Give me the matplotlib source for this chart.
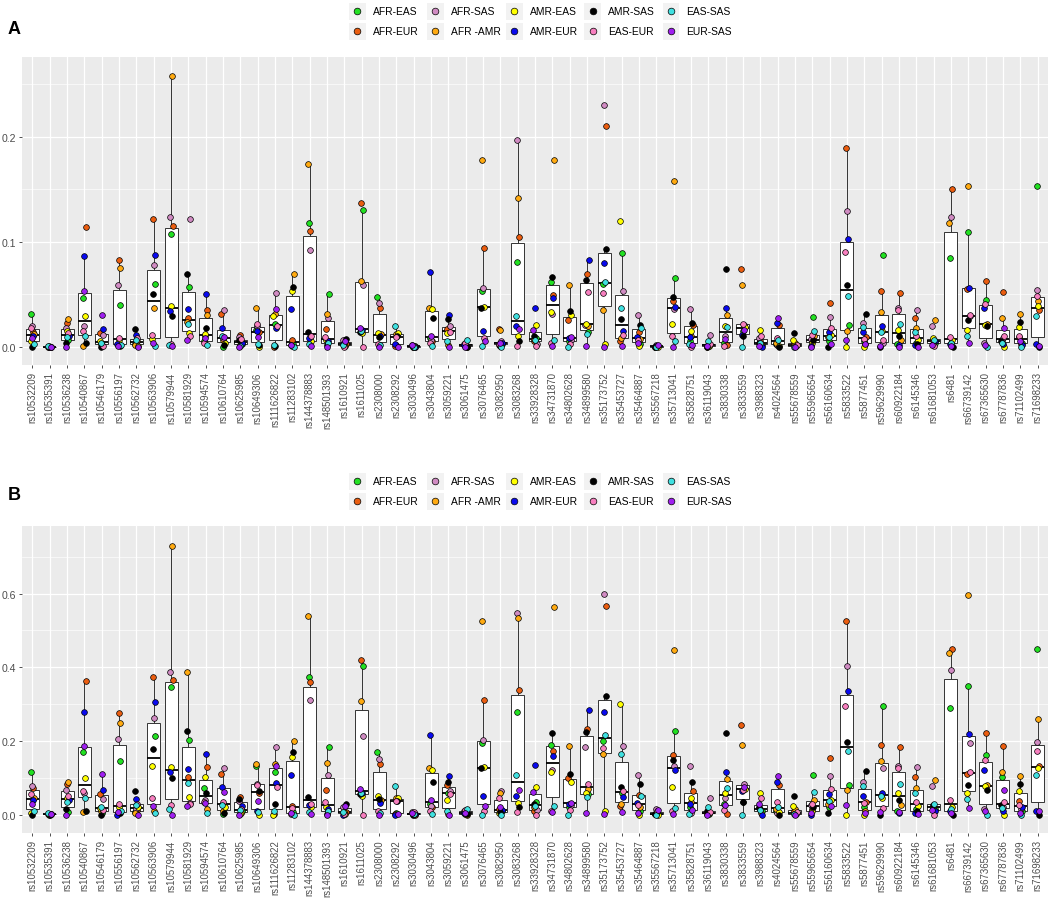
import matplotlib
matplotlib.use("Agg")
import matplotlib.pyplot as plt
import numpy as np
from matplotlib.patches import Rectangle

plt.rcParams["font.family"] = ["Liberation Sans", "DejaVu Sans"]

W, H = 1052, 904

snps = [
    "rs10532209", "rs10535391", "rs10536238", "rs10540867", "rs10546179", "rs10556197",
    "rs10562732", "rs10563906", "rs10579944", "rs10581929", "rs10594574", "rs10610764",
    "rs10625985", "rs10649306", "rs111626822", "rs11283102", "rs144378883", "rs148501393",
    "rs1610921", "rs1611025", "rs2308000", "rs2308292", "rs3030496", "rs3043804",
    "rs3059221", "rs3061475", "rs3076465", "rs3082950", "rs3083268", "rs33928328",
    "rs34731870", "rs34802628", "rs34899580", "rs35173752", "rs35453727", "rs35464887",
    "rs35567218", "rs35713041", "rs35828751", "rs36119043", "rs3830338", "rs3833559",
    "rs3988323", "rs4024564", "rs55678559", "rs55965654", "rs56160634", "rs5833522",
    "rs5877451", "rs59629990", "rs60922184", "rs6145346", "rs61681053", "rs6481",
    "rs66739142", "rs67365630", "rs67787836", "rs71102499", "rs71698233",
]

pairs = ["AFR-EAS", "AFR-EUR", "AFR-SAS", "AFR -AMR", "AMR-EAS",
         "AMR-EUR", "AMR-SAS", "EAS-EUR", "EAS-SAS", "EUR-SAS"]
pair_colors = ["#22e022", "#ea5d10", "#d08bc2", "#ffaa11", "#ffff00",
               "#0a0aee", "#000000", "#f77fbf", "#40e0e0", "#a020f0"]

# one row per SNP, columns in the order of `pairs`
a_values = [
    [0.031, 0.014, 0.020, 0.012, 0.005, 0.010, 0.000, 0.018, 0.003, 0.008],
    [0.001, 0.000, 0.000, 0.000, 0.000, 0.000, 0.000, 0.000, 0.001, 0.000],
    [0.006, 0.023, 0.018, 0.026, 0.015, 0.010, 0.004, 0.013, 0.009, 0.000],
    [0.046, 0.114, 0.020, 0.001, 0.029, 0.086, 0.004, 0.015, 0.010, 0.053],
    [0.002, 0.013, 0.011, 0.003, 0.005, 0.017, 0.000, 0.001, 0.004, 0.030],
    [0.040, 0.083, 0.059, 0.075, 0.006, 0.003, 0.001, 0.008, 0.002, 0.001],
    [0.003, 0.005, 0.004, 0.002, 0.001, 0.011, 0.017, 0.008, 0.006, 0.000],
    [0.060, 0.122, 0.078, 0.037, 0.007, 0.087, 0.050, 0.011, 0.001, 0.004],
    [0.107, 0.115, 0.124, 0.258, 0.039, 0.034, 0.029, 0.003, 0.002, 0.001],
    [0.057, 0.027, 0.122, 0.024, 0.013, 0.036, 0.069, 0.010, 0.022, 0.006],
    [0.005, 0.035, 0.010, 0.030, 0.012, 0.050, 0.018, 0.004, 0.002, 0.008],
    [0.000, 0.031, 0.035, 0.006, 0.004, 0.018, 0.002, 0.008, 0.010, 0.009],
    [0.003, 0.011, 0.009, 0.005, 0.002, 0.004, 0.006, 0.007, 0.001, 0.000],
    [0.016, 0.014, 0.020, 0.037, 0.000, 0.015, 0.002, 0.022, 0.003, 0.009],
    [0.022, 0.000, 0.051, 0.031, 0.029, 0.018, 0.001, 0.020, 0.002, 0.036],
    [0.003, 0.006, 0.002, 0.069, 0.053, 0.036, 0.057, 0.001, 0.000, 0.002],
    [0.118, 0.110, 0.092, 0.174, 0.005, 0.008, 0.014, 0.010, 0.003, 0.001],
    [0.050, 0.017, 0.027, 0.031, 0.006, 0.005, 0.002, 0.009, 0.0035, 0.000],
    [0.002, 0.003, 0.006, 0.001, 0.002, 0.003, 0.007, 0.000, 0.002, 0.005],
    [0.130, 0.137, 0.059, 0.063, 0.013, 0.016, 0.014, 0.000, 0.015, 0.018],
    [0.047, 0.037, 0.042, 0.012, 0.013, 0.010, 0.009, 0.003, 0.002, 0.000],
    [0.002, 0.001, 0.011, 0.012, 0.013, 0.003, 0.010, 0.009, 0.020, 0.000],
    [0.001, 0.000, 0.002, 0.000, 0.001, 0.000, 0.000, 0.001, 0.000, 0.002],
    [0.008, 0.005, 0.006, 0.037, 0.036, 0.071, 0.027, 0.004, 0.001, 0.010],
    [0.016, 0.017, 0.020, 0.002, 0.013, 0.030, 0.026, 0.014, 0.005, 0.000],
    [0.002, 0.001, 0.003, 0.000, 0.001, 0.002, 0.000, 0.004, 0.006, 0.000],
    [0.053, 0.094, 0.056, 0.178, 0.038, 0.015, 0.037, 0.008, 0.001, 0.005],
    [0.003, 0.017, 0.005, 0.016, 0.002, 0.004, 0.001, 0.003, 0.000, 0.004],
    [0.081, 0.105, 0.197, 0.142, 0.010, 0.020, 0.005, 0.001, 0.029, 0.017],
    [0.008, 0.005, 0.003, 0.007, 0.021, 0.037, 0.010, 0.001, 0.006, 0.016],
    [0.062, 0.049, 0.031, 0.178, 0.033, 0.046, 0.066, 0.004, 0.006, 0.001],
    [0.005, 0.025, 0.006, 0.059, 0.030, 0.008, 0.034, 0.003, 0.000, 0.009],
    [0.014, 0.069, 0.021, 0.020, 0.022, 0.083, 0.064, 0.052, 0.012, 0.001],
    [0.060, 0.210, 0.230, 0.035, 0.003, 0.080, 0.093, 0.051, 0.062, 0.000],
    [0.089, 0.005, 0.053, 0.008, 0.120, 0.015, 0.026, 0.011, 0.037, 0.001],
    [0.003, 0.014, 0.030, 0.007, 0.001, 0.009, 0.021, 0.006, 0.018, 0.004],
    [0.000, 0.001, 0.002, 0.000, 0.000, 0.001, 0.000, 0.001, 0.000, 0.002],
    [0.065, 0.044, 0.036, 0.158, 0.022, 0.038, 0.047, 0.010, 0.005, 0.000],
    [0.005, 0.021, 0.036, 0.010, 0.015, 0.009, 0.0225, 0.000, 0.003, 0.002],
    [0.001, 0.002, 0.011, 0.000, 0.001, 0.002, 0.000, 0.003, 0.005, 0.001],
    [0.004, 0.002, 0.010, 0.030, 0.020, 0.0365, 0.074, 0.001, 0.019, 0.007],
    [0.015, 0.074, 0.021, 0.059, 0.019, 0.011, 0.010, 0.022, 0.000, 0.016],
    [0.002, 0.005, 0.008, 0.003, 0.016, 0.000, 0.004, 0.0105, 0.004, 0.001],
    [0.003, 0.021, 0.002, 0.004, 0.001, 0.023, 0.000, 0.0086, 0.006, 0.0276],
    [0.001, 0.003, 0.002, 0.004, 0.0067, 0.001, 0.013, 0.002, 0.000, 0.000],
    [0.0286, 0.005, 0.007, 0.010, 0.004, 0.001, 0.006, 0.011, 0.015, 0.000],
    [0.005, 0.042, 0.0286, 0.009, 0.011, 0.0137, 0.000, 0.018, 0.0095, 0.003],
    [0.021, 0.189, 0.129, 0.0146, 0.000, 0.1025, 0.0587, 0.090, 0.0486, 0.0063],
    [0.005, 0.009, 0.023, 0.003, 0.000, 0.0137, 0.031, 0.007, 0.019, 0.0025],
    [0.0876, 0.0527, 0.004, 0.0333, 0.015, 0.020, 0.000, 0.006, 0.0137, 0.001],
    [0.003, 0.051, 0.037, 0.006, 0.016, 0.002, 0.0105, 0.035, 0.0216, 0.000],
    [0.004, 0.027, 0.035, 0.018, 0.006, 0.002, 0.003, 0.010, 0.014, 0.000],
    [0.004, 0.006, 0.020, 0.0257, 0.008, 0.005, 0.003, 0.001, 0.006, 0.002],
    [0.085, 0.150, 0.124, 0.118, 0.006, 0.003, 0.000, 0.0095, 0.004, 0.001],
    [0.109, 0.055, 0.029, 0.1527, 0.016, 0.056, 0.025, 0.030, 0.0105, 0.004],
    [0.0444, 0.063, 0.004, 0.022, 0.021, 0.037, 0.020, 0.041, 0.000, 0.002],
    [0.006, 0.0524, 0.008, 0.027, 0.000, 0.003, 0.005, 0.010, 0.004, 0.018],
    [0.004, 0.009, 0.003, 0.031, 0.0187, 0.002, 0.024, 0.010, 0.000, 0.005],
    [0.153, 0.035, 0.054, 0.044, 0.039, 0.003, 0.000, 0.048, 0.029, 0.001],
]

b_values = [
    [0.115, 0.072, 0.079, 0.045, 0.005, 0.040, 0.000, 0.055, 0.011, 0.030],
    [0.001, 0.002, 0.003, 0.000, 0.001, 0.002, 0.000, 0.001, 0.005, 0.002],
    [0.006, 0.083, 0.067, 0.0895, 0.045, 0.040, 0.015, 0.0515, 0.035, 0.000],
    [0.171, 0.362, 0.060, 0.006, 0.0995, 0.278, 0.011, 0.063, 0.044, 0.187],
    [0.005, 0.056, 0.0425, 0.010, 0.018, 0.068, 0.000, 0.012, 0.020, 0.110],
    [0.1465, 0.276, 0.205, 0.250, 0.020, 0.000, 0.005, 0.029, 0.010, 0.008],
    [0.008, 0.012, 0.015, 0.005, 0.020, 0.0425, 0.065, 0.030, 0.026, 0.000],
    [0.2125, 0.3745, 0.262, 0.010, 0.131, 0.305, 0.178, 0.044, 0.0045, 0.023],
    [0.347, 0.365, 0.388, 0.730, 0.129, 0.115, 0.0995, 0.025, 0.015, 0.000],
    [0.2035, 0.103, 0.033, 0.386, 0.047, 0.124, 0.227, 0.030, 0.086, 0.0226],
    [0.0715, 0.1285, 0.040, 0.015, 0.101, 0.1646, 0.060, 0.035, 0.0045, 0.031],
    [0.001, 0.110, 0.128, 0.010, 0.020, 0.076, 0.005, 0.035, 0.025, 0.0606],
    [0.010, 0.047, 0.038, 0.005, 0.003, 0.0226, 0.043, 0.015, 0.012, 0.000],
    [0.133, 0.060, 0.083, 0.1375, 0.000, 0.010, 0.065, 0.080, 0.008, 0.037],
    [0.117, 0.001, 0.1845, 0.1375, 0.000, 0.086, 0.030, 0.074, 0.009, 0.131],
    [0.008, 0.024, 0.003, 0.199, 0.157, 0.1085, 0.171, 0.017, 0.000, 0.005],
    [0.375, 0.359, 0.311, 0.540, 0.020, 0.027, 0.049, 0.030, 0.008, 0.002],
    [0.1845, 0.068, 0.1085, 0.140, 0.020, 0.015, 0.003, 0.035, 0.010, 0.000],
    [0.005, 0.008, 0.020, 0.003, 0.006, 0.000, 0.029, 0.002, 0.008, 0.0226],
    [0.404, 0.4206, 0.2125, 0.309, 0.050, 0.060, 0.055, 0.000, 0.058, 0.070],
    [0.171, 0.1375, 0.151, 0.040, 0.0515, 0.0317, 0.042, 0.010, 0.005, 0.000],
    [0.005, 0.002, 0.040, 0.045, 0.044, 0.000, 0.038, 0.037, 0.077, 0.003],
    [0.003, 0.001, 0.008, 0.000, 0.002, 0.001, 0.000, 0.006, 0.002, 0.004],
    [0.030, 0.020, 0.0226, 0.126, 0.120, 0.217, 0.088, 0.010, 0.002, 0.041],
    [0.060, 0.080, 0.065, 0.003, 0.040, 0.104, 0.088, 0.056, 0.010, 0.000],
    [0.003, 0.002, 0.010, 0.000, 0.002, 0.004, 0.001, 0.012, 0.015, 0.005],
    [0.1945, 0.311, 0.2035, 0.525, 0.130, 0.0516, 0.126, 0.010, 0.000, 0.0226],
    [0.010, 0.015, 0.065, 0.060, 0.005, 0.012, 0.008, 0.045, 0.000, 0.020],
    [0.278, 0.339, 0.547, 0.535, 0.033, 0.050, 0.020, 0.006, 0.108, 0.067],
    [0.0335, 0.010, 0.012, 0.020, 0.076, 0.135, 0.030, 0.000, 0.024, 0.0624],
    [0.190, 0.1737, 0.120, 0.5627, 0.1167, 0.160, 0.2216, 0.010, 0.024, 0.006],
    [0.020, 0.100, 0.025, 0.187, 0.090, 0.030, 0.110, 0.0136, 0.000, 0.032],
    [0.056, 0.232, 0.1845, 0.070, 0.060, 0.284, 0.225, 0.083, 0.047, 0.004],
    [0.200, 0.567, 0.599, 0.1646, 0.011, 0.2795, 0.323, 0.180, 0.216, 0.002],
    [0.060, 0.0226, 0.187, 0.030, 0.300, 0.047, 0.076, 0.065, 0.165, 0.006],
    [0.010, 0.054, 0.1085, 0.020, 0.000, 0.032, 0.083, 0.025, 0.050, 0.004],
    [0.002, 0.004, 0.015, 0.001, 0.000, 0.003, 0.001, 0.010, 0.000, 0.012],
    [0.228, 0.163, 0.133, 0.447, 0.074, 0.122, 0.148, 0.010, 0.017, 0.002],
    [0.020, 0.065, 0.131, 0.035, 0.045, 0.029, 0.088, 0.005, 0.002, 0.012],
    [0.003, 0.005, 0.045, 0.001, 0.004, 0.006, 0.010, 0.008, 0.020, 0.000],
    [0.030, 0.002, 0.045, 0.097, 0.060, 0.115, 0.2216, 0.012, 0.0715, 0.026],
    [0.035, 0.244, 0.083, 0.189, 0.070, 0.065, 0.034, 0.068, 0.000, 0.074],
    [0.010, 0.015, 0.020, 0.005, 0.059, 0.000, 0.018, 0.044, 0.012, 0.030],
    [0.010, 0.080, 0.005, 0.015, 0.008, 0.088, 0.000, 0.035, 0.022, 0.104],
    [0.003, 0.010, 0.005, 0.015, 0.024, 0.002, 0.0516, 0.006, 0.001, 0.000],
    [0.1085, 0.015, 0.025, 0.0407, 0.010, 0.000, 0.020, 0.030, 0.0606, 0.005],
    [0.020, 0.153, 0.106, 0.030, 0.040, 0.056, 0.005, 0.070, 0.038, 0.023],
    [0.0814, 0.5265, 0.4025, 0.068, 0.000, 0.3347, 0.196, 0.296, 0.1737, 0.026],
    [0.020, 0.035, 0.088, 0.010, 0.000, 0.0516, 0.119, 0.032, 0.077, 0.005],
    [0.296, 0.189, 0.1266, 0.1465, 0.045, 0.058, 0.000, 0.017, 0.0516, 0.008],
    [0.010, 0.183, 0.133, 0.026, 0.060, 0.005, 0.040, 0.1257, 0.083, 0.008],
    [0.015, 0.101, 0.130, 0.0715, 0.024, 0.005, 0.010, 0.035, 0.058, 0.002],
    [0.015, 0.020, 0.079, 0.095, 0.022, 0.010, 0.025, 0.000, 0.030, 0.012],
    [0.2886, 0.4496, 0.3935, 0.438, 0.020, 0.010, 0.000, 0.040, 0.015, 0.004],
    [0.350, 0.110, 0.1945, 0.596, 0.060, 0.219, 0.080, 0.115, 0.0425, 0.017],
    [0.162, 0.2216, 0.015, 0.080, 0.078, 0.122, 0.068, 0.149, 0.000, 0.010],
    [0.103, 0.187, 0.020, 0.115, 0.000, 0.010, 0.025, 0.035, 0.017, 0.067],
    [0.010, 0.038, 0.015, 0.106, 0.065, 0.020, 0.083, 0.025, 0.000, 0.005],
    [0.4496, 0.133, 0.196, 0.261, 0.128, 0.010, 0.000, 0.1737, 0.1085, 0.009],
]

a_ticks = [0.0, 0.1, 0.2]
b_ticks = [0.0, 0.2, 0.4, 0.6]

# small fixed horizontal spread for the points (position only)
spread = np.array([-0.09, 0.06, -0.03, 0.09, -0.06, 0.03, 0.0, -0.075, 0.075, -0.015])


def px_axes(fig, left, top, right, bottom):
    return fig.add_axes([left / W, 1 - bottom / H, (right - left) / W, (bottom - top) / H])


def draw_panel(ax, values, yticks, ylim, minor_step):
    vals = np.array(values)
    x = np.arange(1, len(snps) + 1)
    ax.set_facecolor("#ebebeb")
    for s in ax.spines.values():
        s.set_visible(False)

    ax.boxplot([vals[i] for i in range(len(snps))], positions=x, widths=0.75,
               whis=1.5, showfliers=False, showcaps=False, patch_artist=True,
               boxprops=dict(facecolor="white", edgecolor="#333333", linewidth=0.7),
               whiskerprops=dict(color="#333333", linewidth=0.7),
               medianprops=dict(color="black", linewidth=1.3), zorder=2)

    for g, name in enumerate(pairs):
        offs = np.array([np.roll(spread, i)[g] for i in range(len(snps))])
        ax.scatter(x + offs, vals[:, g], s=17, color=pair_colors[g],
                   edgecolors="black", linewidths=0.5, zorder=3, label=name)

    ax.set_xlim(0.4, len(snps) + 0.6)
    ax.set_ylim(*ylim)
    ax.set_xticks(x)
    ax.set_xticklabels(snps, rotation=90, fontsize=6.9, color="#4d4d4d")
    ax.set_yticks(yticks)
    ax.set_yticklabels([f"{t:.1f}" for t in yticks], fontsize=7.6, color="#4d4d4d")
    ax.set_yticks(np.arange(minor_step, ylim[1], minor_step * 2), minor=True)
    ax.tick_params(axis="both", which="major", length=2.5, width=0.6, color="#333333", pad=2)
    ax.tick_params(axis="y", which="minor", length=0)
    ax.grid(True, which="major", color="white", linewidth=0.9)
    ax.grid(True, which="minor", axis="y", color="white", linewidth=0.45)
    ax.set_axisbelow(True)


def draw_legend(fig, row_y):
    # ggplot style legend: 5 columns x 2 rows, grey key boxes
    for i, name in enumerate(pairs):
        col, row = i // 2, i % 2
        cx = 357 + col * 78.5
        cy = row_y + row * 20
        fig.patches.append(Rectangle(((cx - 8.5) / W, 1 - (cy + 8.5) / H), 17 / W, 17 / H,
                                     transform=fig.transFigure, facecolor="#f2f2f2",
                                     edgecolor="none"))
        fig.lines.append(plt.Line2D([cx / W], [1 - cy / H], transform=fig.transFigure,
                                    marker="o", markersize=4.8, markerfacecolor=pair_colors[i],
                                    markeredgecolor="black", markeredgewidth=0.5,
                                    linestyle="none"))
        fig.text((cx + 15.5) / W, 1 - cy / H, name, fontsize=7.4, color="black",
                 ha="left", va="center")


fig = plt.figure(figsize=(W / 100, H / 100), dpi=100)

ax_a = px_axes(fig, 22, 58, 1048, 366)
draw_panel(ax_a, a_values, a_ticks, (-0.0174, 0.276), 0.05)
ax_b = px_axes(fig, 22, 527, 1048, 834)
draw_panel(ax_b, b_values, b_ticks, (-0.0497, 0.7836), 0.1)

draw_legend(fig, 12)
draw_legend(fig, 482)

fig.text(8 / W, 1 - 30 / H, "A", fontsize=13, fontweight="bold", va="center", ha="left")
fig.text(8 / W, 1 - 495 / H, "B", fontsize=13, fontweight="bold", va="center", ha="left")

fig.savefig("out.png", dpi=100)
